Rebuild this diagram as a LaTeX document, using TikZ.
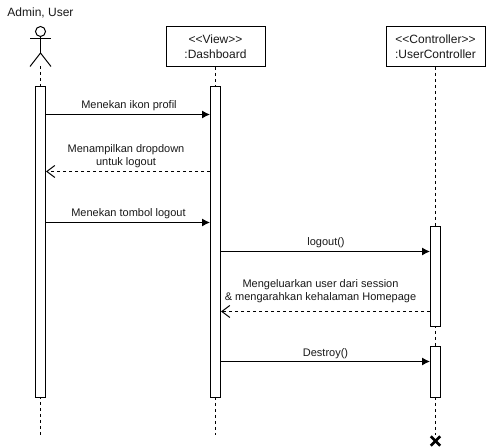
\documentclass[tikz,border=0pt]{standalone}
\usepackage{fontspec}
\setmainfont{Liberation Sans}
\usetikzlibrary{arrows.meta}
\definecolor{txt}{gray}{0.1}
\tikzset{
  x=0.75pt,y=-0.75pt,
  every path/.style={line width=0.75pt},
  headbox/.style={draw,fill=white,minimum width=74.25pt,minimum height=30pt,inner sep=0pt,align=center,font=\fontsize{9}{11.25}\selectfont,text=txt},
  activation/.style={draw,fill=white,minimum width=7.5pt,inner sep=0pt},
  lifeline/.style={dash pattern=on 2.25pt off 2.25pt},
  lbl/.style={inner sep=0pt,align=center,font=\fontsize{8.25}{9.4}\selectfont,text=txt},
  callarrow/.style={-{Latex[length=6pt,width=6pt]}},
  replyarrow/.style={dash pattern=on 2.25pt off 2.25pt,-{Straight Barb[length=6pt,width=9pt]}},
}
\begin{document}
\begin{tikzpicture}
\useasboundingbox (0,0) rectangle (486,448);
\fill[white] (0,0) rectangle (486,448);
% lifeline ends
\coordinate (actorfoot) at (40.5,66);
\coordinate (end1) at (40.5,435);
\coordinate (end2) at (215.5,435);
\coordinate (end3) at (435.5,435);
\coordinate (xmark) at (435.5,441);
% heads
\node[lbl,font=\fontsize{9}{11}\selectfont] (actorname) at (40.5,12.5) {Admin, User};
\node[headbox] (view) at (215.5,46.5) {{<}{<}View{>}{>}\\:Dashboard};
\node[headbox] (ctrl) at (435.5,46.5) {{<}{<}Controller{>}{>}\\:UserController};
% lifelines
\draw[lifeline] (actorfoot) -- (end1);
\draw[lifeline] (view.south) -- (end2);
\draw[lifeline] (ctrl.south) -- (end3);
% actor
\node[draw,circle,minimum size=7.5pt,inner sep=0pt] (head) at (40.5,31.5) {};
\coordinate (hip) at (40.5,53);
\draw (head.south) -- (hip);
\draw (30,39) -- (51,39);
\draw (30,66.5) -- (hip) -- (51,66.5);
% activations
\node[activation,minimum height=233.25pt] (a1) at (40.5,242) {};
\node[activation,minimum height=233.25pt] (a2) at (215.5,242) {};
\node[activation,minimum height=75pt] (a3) at (435.5,276.5) {};
\node[activation,minimum height=38.25pt] (a4) at (435.5,372) {};
% messages
\draw[callarrow] (a1.east |- 0,114.5) -- (a2.west |- 0,114.5);
\node[lbl] (m1) at (129,105.5) {Menekan ikon profil};
\draw[replyarrow] (a2.west |- 0,171.5) -- (a1.east |- 0,171.5);
\node[lbl] (m2) at (126,156) {Menampilkan dropdown\\untuk logout};
\draw[callarrow] (a1.east |- 0,222.5) -- (a2.west |- 0,222.5);
\node[lbl] (m3) at (128.5,213.5) {Menekan tombol logout};
\draw[callarrow] (a2.east |- 0,251.5) -- (a3.west |- 0,251.5);
\node[lbl] (m4) at (326,243) {logout()};
\draw[replyarrow] (a3.west |- 0,311.5) -- (a2.east |- 0,311.5);
\node[lbl] (m5) at (320.5,291) {Mengeluarkan user dari session\\\& mengarahkan kehalaman Homepage};
\draw[callarrow] (a2.east |- 0,361.5) -- (a4.west |- 0,361.5);
\node[lbl] (m6) at (325.5,353.5) {Destroy()};
% destroy mark
\draw[line width=2.1pt] ([shift={(-4.7,-4.7)}]xmark) -- ([shift={(4.7,4.7)}]xmark);
\draw[line width=2.1pt] ([shift={(-4.7,4.7)}]xmark) -- ([shift={(4.7,-4.7)}]xmark);
\end{tikzpicture}
\end{document}
